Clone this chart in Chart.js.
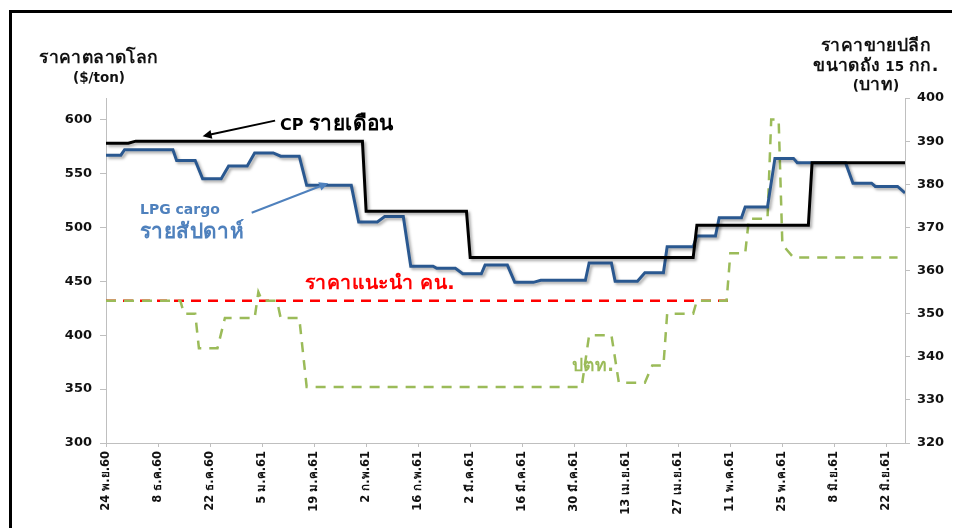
<!DOCTYPE html>
<html lang="th">
<head>
<meta charset="UTF-8">
<title>LPG price chart</title>
<script src="https://cdn.jsdelivr.net/npm/chart.js"></script>
<style>
* { margin: 0; padding: 0; box-sizing: border-box; }
body { background: #ffffff; width: 954px; height: 528px; overflow: hidden; position: relative;
       font-family: "DejaVu Sans", Tahoma, sans-serif; }
.frame { position: absolute; left: 9px; top: 10px; width: 943px; height: 530px;
         border-left: 3px solid #000; border-top: 3px solid #000; }
.wrap { position: absolute; left: 0; top: 0; width: 954px; height: 528px; }
.lbl { position: absolute; font-weight: bold; white-space: nowrap; line-height: 1; }
.ttl { position: absolute; font-weight: bold; font-size: 13.5px; line-height: 18.5px; text-align: center; color: #111; white-space: nowrap; }
.th { font-size: 1.3em; letter-spacing: 0.4px; }
</style>
</head>
<body>
<div class="frame"></div>
<div class="wrap"><canvas id="lpgChart"></canvas></div>

<div class="ttl" style="left:29px; top:48px; width:140px;"><span class="th">ราคาตลาดโลก</span><br>($/ton)</div>
<div class="ttl" style="left:796px; top:36px; width:160px;"><span class="th">ราคาขายปลีก</span><br><span class="th">ขนาดถัง</span> 15 <span class="th">กก.</span><br>(<span class="th">บาท</span>)</div>

<div class="lbl" style="left:280px; top:113px; font-size:16px; color:#000;">CP <span class="th">รายเดือน</span></div>
<div class="lbl" style="left:140px; top:202px; font-size:14px; color:#4f81bd;">LPG cargo</div>
<div class="lbl" style="left:140px; top:221px; font-size:16px; color:#4f81bd;"><span class="th">รายสัปดาห์</span></div>
<div class="lbl" style="left:305px; top:273px; font-size:15px; color:#ff0000;"><span class="th">ราคาแนะนำ คน.</span></div>
<div class="lbl" style="left:572px; top:357px; font-size:13.5px; color:#9bbb59;"><span class="th">ปตท.</span></div>

<script>
// x values are days counted from 24 Nov 2017
const tickDays = [0, 14, 28, 42, 56, 70, 84, 98, 112, 126, 140, 154, 168, 182, 196, 210];
const tickLabels = ['24 พ.ย.60', '8 ธ.ค.60', '22 ธ.ค.60', '5 ม.ค.61', '19 ม.ค.61', '2 ก.พ.61',
    '16 ก.พ.61', '2 มี.ค.61', '16 มี.ค.61', '30 มี.ค.61', '13 เม.ย.61', '27 เม.ย.61',
    '11 พ.ค.61', '25 พ.ค.61', '8 มิ.ย.61', '22 มิ.ย.61'];
const leftTicks = [300, 350, 400, 450, 500, 550, 600];
const rightTicks = [320, 330, 340, 350, 360, 370, 380, 390, 400];

// CP monthly ($/ton)
const cpDays   = [0, 6, 8, 69, 70, 97, 98, 158, 159, 189, 190, 215];
const cpValues = [578, 578, 580, 580, 515, 515, 472, 472, 502, 502, 560, 560];

// LPG cargo weekly ($/ton)
const cargoDays   = [0, 4, 5, 18, 19, 24, 26, 31, 33, 38, 40, 45, 47, 52, 54, 66, 68, 73, 75, 80,
    82, 88, 89, 94, 96, 101, 102, 108, 110, 115, 117, 129, 130, 136, 137, 143, 145, 150, 151, 158,
    159, 164, 165, 171, 172, 178, 180, 185, 186, 199, 201, 206, 207, 213, 215];
const cargoValues = [567, 567, 572, 572, 562, 562, 545, 545, 557, 557, 569, 569, 566, 566, 539, 539, 505, 505, 510, 510,
    464, 464, 462, 462, 457, 457, 465, 465, 449, 449, 451, 451, 467, 467, 450, 450, 458, 458, 482, 482,
    492, 492, 509, 509, 519, 519, 564, 564, 560, 560, 541, 541, 538, 538, 532];

// PTT retail price, 15 kg cylinder (baht)
const pttDays   = [0, 20, 21, 24, 25, 30, 32, 40, 41, 42, 46, 47, 52, 54, 128, 130, 136, 138, 145, 147,
    150, 151, 158, 159, 167, 168, 172, 173, 178, 179, 181, 182, 185, 213];
const pttValues = [353, 353, 350, 350, 342, 342, 349, 349, 355, 353, 353, 349, 349, 333, 333, 345, 345, 334, 334, 338,
    338, 350, 350, 353, 353, 364, 364, 372, 372, 395, 395, 366, 363, 363];

// recommended price (baht)
const refDays   = [0, 168];
const refValues = [353, 353];

const pts = (xs, ys) => xs.map((x, i) => ({ x: x, y: ys[i] }));

const fam = '"DejaVu Sans", Tahoma, sans-serif';
const tickFont = { family: fam, weight: 'bold', size: 13 };

// drop shadow on the two solid lines + arrows
const extras = {
    id: 'extras',
    beforeDatasetDraw(chart, args) {
        if (args.meta._dataset.shadow) {
            const c = chart.ctx;
            c.save();
            c.shadowColor = 'rgba(0,0,0,0.35)';
            c.shadowBlur = 3;
            c.shadowOffsetX = 2;
            c.shadowOffsetY = 2;
        }
    },
    afterDatasetDraw(chart, args) {
        if (args.meta._dataset.shadow) chart.ctx.restore();
    },
    afterDraw(chart) {
        const c = chart.ctx, x = chart.scales.x, y = chart.scales.y;
        function arrow(d1, v1, d2, v2, col) {
            const x1 = x.getPixelForValue(d1), y1 = y.getPixelForValue(v1);
            const x2 = x.getPixelForValue(d2), y2 = y.getPixelForValue(v2);
            const a = Math.atan2(y2 - y1, x2 - x1);
            c.save();
            c.strokeStyle = col; c.fillStyle = col; c.lineWidth = 2;
            c.beginPath(); c.moveTo(x1, y1); c.lineTo(x2 - 8 * Math.cos(a), y2 - 8 * Math.sin(a)); c.stroke();
            c.beginPath();
            c.moveTo(x2, y2);
            c.lineTo(x2 - 10 * Math.cos(a - 0.45), y2 - 10 * Math.sin(a - 0.45));
            c.lineTo(x2 - 10 * Math.cos(a + 0.45), y2 - 10 * Math.sin(a + 0.45));
            c.closePath(); c.fill();
            c.restore();
        }
        arrow(45.5, 599, 26, 584.5, '#000000');
        arrow(39.2, 513.6, 59.8, 541, '#4f81bd');
    }
};

new Chart(document.getElementById('lpgChart'), {
    type: 'line',
    data: {
        datasets: [
            { label: 'CP รายเดือน', data: pts(cpDays, cpValues), yAxisID: 'y', borderColor: '#000000', borderWidth: 3, shadow: true },
            { label: 'LPG cargo รายสัปดาห์', data: pts(cargoDays, cargoValues), yAxisID: 'y', borderColor: '#2a5890', borderWidth: 3, shadow: true },
            { label: 'ปตท.', data: pts(pttDays, pttValues), yAxisID: 'y2', borderColor: '#9bbb59', borderWidth: 2.5, borderDash: [10, 8] },
            { label: 'ราคาแนะนำ คน.', data: pts(refDays, refValues), yAxisID: 'y2', borderColor: '#ff0000', borderWidth: 2.5, borderDash: [10, 7] }
        ]
    },
    options: {
        responsive: true,
        maintainAspectRatio: false,
        animation: false,
        devicePixelRatio: 1,
        layout: { padding: { top: 98, left: 0, right: 0, bottom: 0 } },
        elements: { point: { radius: 0 }, line: { tension: 0, fill: false } },
        plugins: { legend: { display: false }, tooltip: { enabled: false } },
        scales: {
            x: {
                type: 'linear', min: 0, max: 215,
                afterBuildTicks: s => { s.ticks = tickDays.map(v => ({ value: v })); },
                afterFit: s => { s.height = 85; },
                ticks: {
                    autoSkip: false, maxRotation: 90, minRotation: 90, padding: 4,
                    color: '#111', font: { family: fam, weight: 'bold', size: 11.5 },
                    callback: v => tickLabels[tickDays.indexOf(v)]
                },
                grid: { display: true, drawOnChartArea: false, drawTicks: true, tickLength: 4, color: '#bfbfbf' },
                border: { display: true, color: '#bfbfbf', width: 1 }
            },
            y: {
                position: 'left', min: 300, max: 620,
                afterBuildTicks: s => { s.ticks = leftTicks.map(v => ({ value: v })); },
                afterFit: s => { s.width = 106; },
                ticks: { color: '#111', font: tickFont, padding: 8 },
                grid: { display: true, drawOnChartArea: false, drawTicks: true, tickLength: 6, color: '#bfbfbf' },
                border: { display: true, color: '#bfbfbf', width: 1 }
            },
            y2: {
                position: 'right', min: 320, max: 400,
                afterBuildTicks: s => { s.ticks = rightTicks.map(v => ({ value: v })); },
                afterFit: s => { s.width = 49; },
                ticks: { color: '#111', font: tickFont, padding: 7 },
                grid: { display: true, drawOnChartArea: false, drawTicks: true, tickLength: 5, color: '#bfbfbf' },
                border: { display: true, color: '#bfbfbf', width: 1 }
            }
        }
    },
    plugins: [extras]
});
</script>
</body>
</html>
